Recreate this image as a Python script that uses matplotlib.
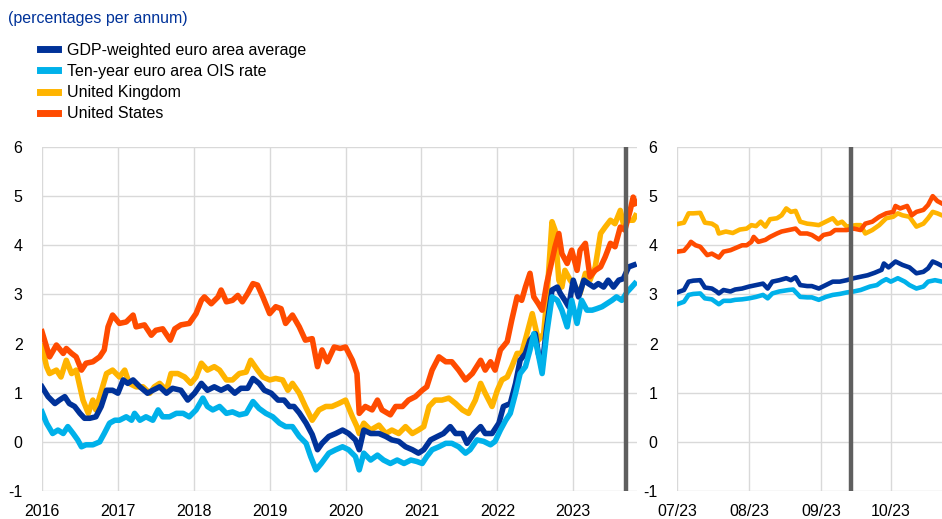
import matplotlib
matplotlib.use("Agg")
import matplotlib.pyplot as plt
from matplotlib.lines import Line2D

plt.rcParams['font.family'] = ['Liberation Sans', 'DejaVu Sans']
plt.rcParams['axes.unicode_minus'] = False

# colours
c_gdp = '#003299'
c_ois = '#00b1ea'
c_uk = '#ffb400'
c_us = '#ff4b00'
c_bar = '#5f5f5f'

labels = ['GDP-weighted euro area average', 'Ten-year euro area OIS rate',
          'United Kingdom', 'United States']

# ---- left panel (decimal years) ----
us_x = [2016.00, 2016.10, 2016.19, 2016.28, 2016.32, 2016.39, 2016.45, 2016.52, 2016.58, 2016.67,
        2016.76, 2016.82, 2016.87, 2016.93, 2017.02, 2017.11, 2017.20, 2017.24, 2017.35, 2017.44,
        2017.50, 2017.59, 2017.69, 2017.75, 2017.83, 2017.94, 2018.03, 2018.10, 2018.14, 2018.23,
        2018.32, 2018.36, 2018.43, 2018.51, 2018.58, 2018.64, 2018.71, 2018.78, 2018.84, 2018.91,
        2019.00, 2019.08, 2019.15, 2019.21, 2019.30, 2019.39, 2019.47, 2019.56, 2019.63, 2019.69,
        2019.76, 2019.85, 2019.93, 2020.00, 2020.09, 2020.15, 2020.18, 2020.26, 2020.35, 2020.42,
        2020.48, 2020.59, 2020.66, 2020.75, 2020.83, 2020.92, 2021.01, 2021.07, 2021.14, 2021.23,
        2021.32, 2021.40, 2021.49, 2021.58, 2021.67, 2021.78, 2021.84, 2021.91, 2021.97, 2022.04,
        2022.13, 2022.19, 2022.26, 2022.32, 2022.37, 2022.43, 2022.48, 2022.54, 2022.59, 2022.65,
        2022.72, 2022.76, 2022.81, 2022.85, 2022.92, 2022.98, 2023.05, 2023.09, 2023.16, 2023.22,
        2023.29, 2023.36, 2023.42, 2023.49, 2023.55, 2023.62, 2023.68, 2023.75, 2023.79, 2023.82]
us_y = [2.24, 1.73, 1.97, 1.80, 1.90, 1.80, 1.73, 1.46, 1.60, 1.63,
        1.73, 1.87, 2.34, 2.58, 2.41, 2.44, 2.58, 2.34, 2.38, 2.17,
        2.27, 2.30, 2.07, 2.30, 2.38, 2.41, 2.61, 2.88, 2.95, 2.81,
        2.95, 3.09, 2.85, 2.88, 2.98, 2.85, 3.02, 3.22, 3.19, 2.95,
        2.61, 2.75, 2.71, 2.41, 2.58, 2.34, 2.07, 2.10, 1.53, 1.87,
        1.63, 1.93, 1.90, 1.93, 1.66, 1.39, 0.58, 0.72, 0.65, 0.85,
        0.65, 0.55, 0.72, 0.72, 0.85, 0.92, 1.05, 1.12, 1.46, 1.73,
        1.63, 1.63, 1.46, 1.26, 1.39, 1.66, 1.46, 1.63, 1.46, 1.87,
        2.04, 2.48, 2.95, 2.88, 3.15, 3.43, 2.95, 2.81, 2.68, 3.22,
        3.69, 3.97, 4.24, 3.83, 3.63, 3.90, 3.49, 3.90, 4.04, 3.36,
        3.49, 3.56, 3.76, 4.04, 3.97, 4.37, 4.31, 4.71, 4.98, 4.85]

uk_x = [2016.00, 2016.06, 2016.10, 2016.19, 2016.25, 2016.32, 2016.39, 2016.45, 2016.50, 2016.54,
        2016.61, 2016.67, 2016.71, 2016.76, 2016.85, 2016.93, 2017.02, 2017.09, 2017.15, 2017.24,
        2017.33, 2017.42, 2017.48, 2017.55, 2017.64, 2017.70, 2017.79, 2017.88, 2017.96, 2018.03,
        2018.10, 2018.18, 2018.27, 2018.34, 2018.43, 2018.51, 2018.60, 2018.69, 2018.75, 2018.84,
        2018.91, 2019.00, 2019.08, 2019.17, 2019.24, 2019.30, 2019.39, 2019.47, 2019.56, 2019.65,
        2019.74, 2019.82, 2019.91, 2020.00, 2020.09, 2020.15, 2020.18, 2020.24, 2020.33, 2020.44,
        2020.53, 2020.61, 2020.70, 2020.79, 2020.88, 2020.96, 2021.03, 2021.10, 2021.18, 2021.27,
        2021.36, 2021.45, 2021.54, 2021.62, 2021.71, 2021.78, 2021.84, 2021.93, 2022.00, 2022.06,
        2022.13, 2022.19, 2022.26, 2022.32, 2022.39, 2022.46, 2022.50, 2022.54, 2022.61, 2022.65,
        2022.72, 2022.76, 2022.81, 2022.85, 2022.89, 2022.96, 2023.03, 2023.09, 2023.16, 2023.22,
        2023.29, 2023.36, 2023.42, 2023.49, 2023.55, 2023.62, 2023.66, 2023.73, 2023.79, 2023.82]
uk_y = [1.95, 1.53, 1.39, 1.46, 1.32, 1.66, 1.39, 1.46, 1.12, 0.85,
        0.58, 0.85, 0.65, 0.92, 1.39, 1.46, 1.32, 1.46, 1.19, 1.12,
        1.12, 0.99, 1.12, 1.19, 1.05, 1.39, 1.39, 1.32, 1.19, 1.32,
        1.60, 1.46, 1.53, 1.46, 1.26, 1.26, 1.39, 1.42, 1.66, 1.46,
        1.32, 1.26, 1.29, 1.26, 1.05, 1.19, 0.99, 0.72, 0.44, 0.65,
        0.72, 0.72, 0.78, 0.85, 0.51, 0.31, 0.17, 0.38, 0.24, 0.34,
        0.17, 0.24, 0.17, 0.31, 0.17, 0.24, 0.31, 0.72, 0.85, 0.85,
        0.89, 0.78, 0.65, 0.58, 0.85, 1.19, 0.99, 0.72, 1.05, 1.26,
        1.32, 1.53, 1.80, 1.80, 2.20, 2.61, 2.34, 2.07, 2.20, 2.88,
        4.48, 4.31, 3.29, 3.15, 3.49, 3.29, 3.15, 3.02, 3.43, 3.29,
        3.56, 4.24, 4.37, 4.51, 4.44, 4.71, 4.44, 4.51, 4.51, 4.60]

gdp_x = [2016.00, 2016.08, 2016.17, 2016.23, 2016.30, 2016.36, 2016.43, 2016.50, 2016.56, 2016.63,
         2016.71, 2016.78, 2016.85, 2016.93, 2017.00, 2017.07, 2017.13, 2017.20, 2017.29, 2017.39,
         2017.46, 2017.55, 2017.64, 2017.72, 2017.83, 2017.92, 2018.01, 2018.10, 2018.18, 2018.27,
         2018.36, 2018.45, 2018.54, 2018.62, 2018.71, 2018.78, 2018.86, 2018.93, 2019.02, 2019.11,
         2019.19, 2019.26, 2019.32, 2019.39, 2019.48, 2019.56, 2019.63, 2019.69, 2019.78, 2019.87,
         2019.96, 2020.04, 2020.13, 2020.18, 2020.24, 2020.33, 2020.44, 2020.53, 2020.61, 2020.70,
         2020.79, 2020.88, 2020.96, 2021.03, 2021.12, 2021.21, 2021.29, 2021.38, 2021.45, 2021.54,
         2021.60, 2021.69, 2021.78, 2021.84, 2021.93, 2022.02, 2022.08, 2022.17, 2022.24, 2022.30,
         2022.37, 2022.43, 2022.50, 2022.54, 2022.59, 2022.65, 2022.72, 2022.79, 2022.83, 2022.89,
         2022.94, 2023.00, 2023.07, 2023.14, 2023.20, 2023.27, 2023.33, 2023.40, 2023.46, 2023.53,
         2023.60, 2023.66, 2023.73, 2023.80]
gdp_y = [1.12, 0.92, 0.78, 0.85, 0.92, 0.78, 0.72, 0.58, 0.48, 0.48,
         0.51, 0.72, 1.05, 1.05, 0.99, 1.26, 1.19, 1.26, 1.12, 0.99,
         1.05, 1.12, 0.99, 1.09, 1.05, 0.85, 0.99, 1.19, 1.05, 1.12,
         1.05, 1.12, 0.99, 1.09, 1.09, 1.29, 1.19, 1.05, 0.99, 0.85,
         0.85, 0.72, 0.72, 0.59, 0.38, 0.15, -0.16, -0.03, 0.11, 0.17,
         0.24, 0.17, 0.04, -0.16, 0.24, 0.17, 0.17, 0.11, 0.04, 0.01,
         -0.10, -0.16, -0.23, -0.16, 0.04, 0.11, 0.17, 0.31, 0.17, 0.17,
         -0.03, 0.17, 0.31, 0.17, 0.17, 0.38, 0.72, 0.78, 1.19, 1.66,
         1.80, 2.07, 2.20, 1.80, 1.53, 2.34, 3.09, 3.15, 3.02, 2.88,
         2.75, 3.29, 2.95, 3.29, 3.22, 3.15, 3.22, 3.15, 3.29, 3.15,
         3.29, 3.32, 3.56, 3.60]

ois_x = [2016.00, 2016.06, 2016.14, 2016.21, 2016.28, 2016.34, 2016.41, 2016.47, 2016.52, 2016.58,
         2016.67, 2016.76, 2016.82, 2016.89, 2016.96, 2017.02, 2017.11, 2017.18, 2017.22, 2017.29,
         2017.37, 2017.46, 2017.53, 2017.59, 2017.68, 2017.77, 2017.86, 2017.94, 2018.03, 2018.12,
         2018.18, 2018.25, 2018.34, 2018.43, 2018.51, 2018.60, 2018.69, 2018.78, 2018.86, 2018.95,
         2019.04, 2019.13, 2019.21, 2019.30, 2019.39, 2019.48, 2019.54, 2019.61, 2019.68, 2019.78,
         2019.87, 2019.96, 2020.04, 2020.13, 2020.18, 2020.24, 2020.33, 2020.42, 2020.50, 2020.59,
         2020.68, 2020.77, 2020.86, 2020.94, 2021.01, 2021.07, 2021.14, 2021.23, 2021.32, 2021.40,
         2021.49, 2021.58, 2021.64, 2021.73, 2021.82, 2021.91, 2021.97, 2022.04, 2022.11, 2022.17,
         2022.24, 2022.30, 2022.37, 2022.43, 2022.48, 2022.52, 2022.59, 2022.65, 2022.72, 2022.79,
         2022.85, 2022.92, 2022.98, 2023.05, 2023.11, 2023.18, 2023.25, 2023.31, 2023.38, 2023.44,
         2023.51, 2023.57, 2023.64, 2023.71, 2023.77, 2023.81]
ois_y = [0.61, 0.38, 0.17, 0.24, 0.17, 0.31, 0.17, 0.04, -0.10, -0.06,
         -0.06, 0.00, 0.17, 0.38, 0.44, 0.44, 0.51, 0.44, 0.58, 0.44,
         0.51, 0.44, 0.65, 0.51, 0.51, 0.58, 0.58, 0.51, 0.65, 0.89,
         0.72, 0.65, 0.72, 0.58, 0.61, 0.55, 0.58, 0.82, 0.68, 0.58,
         0.51, 0.38, 0.31, 0.31, 0.11, -0.03, -0.30, -0.57, -0.44, -0.23,
         -0.16, -0.10, -0.16, -0.30, -0.57, -0.23, -0.37, -0.27, -0.37, -0.44,
         -0.37, -0.44, -0.37, -0.40, -0.44, -0.30, -0.16, -0.10, -0.03, -0.03,
         -0.10, -0.23, -0.16, 0.04, 0.01, -0.06, 0.01, 0.24, 0.44, 0.58,
         0.99, 1.39, 1.53, 1.87, 2.20, 1.93, 1.39, 2.20, 2.95, 2.88,
         2.68, 2.34, 2.88, 2.41, 2.88, 2.68, 2.68, 2.71, 2.75, 2.81,
         2.88, 2.95, 2.88, 3.05, 3.15, 3.22]

year_ticks = [2016, 2017, 2018, 2019, 2020, 2021, 2022, 2023]
meeting_year = 2023.70

# ---- right panel (days since 1 July 2023) ----
uk_d = [0, 3, 5, 7, 10, 12, 15, 17, 18, 21, 24, 27, 30, 32, 34, 36, 38, 40, 43, 45, 47, 49, 51, 53,
        56, 58, 61, 64, 67, 69, 71, 73, 77, 79, 81, 84, 87, 90, 93, 95, 97, 100, 103, 106, 108, 110, 112, 114]
uk_r = [4.43, 4.46, 4.65, 4.65, 4.66, 4.46, 4.44, 4.38, 4.24, 4.28, 4.25, 4.32, 4.34, 4.41, 4.39, 4.48,
        4.38, 4.53, 4.55, 4.61, 4.75, 4.68, 4.70, 4.48, 4.44, 4.43, 4.41, 4.48, 4.55, 4.44, 4.48, 4.38,
        4.41, 4.41, 4.24, 4.31, 4.41, 4.55, 4.58, 4.65, 4.61, 4.58, 4.38, 4.44, 4.55, 4.68, 4.65, 4.61]

us_d = [0, 3, 5, 6, 8, 10, 13, 15, 18, 20, 23, 25, 28, 30, 32, 33, 35, 38, 40, 43, 45, 48, 51, 53, 56,
        58, 61, 63, 66, 68, 71, 73, 76, 79, 81, 84, 87, 90, 93, 94, 96, 99, 101, 103, 106, 108, 110, 112, 114]
us_r = [3.87, 3.89, 4.00, 4.07, 4.00, 3.97, 3.80, 3.83, 3.75, 3.87, 3.90, 3.94, 4.00, 4.00, 4.07, 4.17,
        4.07, 4.11, 4.17, 4.24, 4.28, 4.31, 4.34, 4.24, 4.24, 4.21, 4.12, 4.21, 4.24, 4.31, 4.31, 4.31,
        4.34, 4.31, 4.44, 4.48, 4.58, 4.65, 4.68, 4.80, 4.75, 4.80, 4.61, 4.68, 4.72, 4.82, 5.00, 4.90, 4.85]

gdp_d = [0, 3, 5, 7, 10, 12, 15, 17, 18, 20, 23, 25, 28, 31, 34, 37, 39, 41, 44, 47, 49, 51, 53, 56,
         58, 61, 64, 67, 70, 73, 76, 79, 82, 85, 88, 89, 91, 94, 97, 100, 103, 106, 108, 110, 112, 114]
gdp_r = [3.04, 3.09, 3.26, 3.28, 3.29, 3.14, 3.12, 3.06, 3.02, 3.09, 3.06, 3.10, 3.12, 3.16, 3.19, 3.22,
         3.12, 3.26, 3.29, 3.33, 3.29, 3.35, 3.19, 3.17, 3.17, 3.12, 3.19, 3.26, 3.26, 3.29, 3.33, 3.36,
         3.39, 3.44, 3.50, 3.63, 3.55, 3.67, 3.60, 3.55, 3.43, 3.46, 3.53, 3.67, 3.63, 3.58]

ois_d = [0, 3, 5, 7, 10, 12, 15, 18, 20, 23, 25, 28, 31, 34, 37, 39, 41, 44, 48, 50, 53, 56, 58, 61,
         64, 67, 70, 73, 76, 79, 83, 86, 88, 90, 92, 95, 98, 100, 103, 106, 108, 111, 114]
ois_r = [2.80, 2.85, 2.99, 3.01, 3.02, 2.92, 2.90, 2.80, 2.87, 2.87, 2.89, 2.90, 2.92, 2.95, 2.99, 2.92,
         3.02, 3.06, 3.09, 3.10, 2.95, 2.94, 2.94, 2.89, 2.95, 2.99, 3.01, 3.04, 3.06, 3.09, 3.16, 3.19,
         3.26, 3.31, 3.26, 3.33, 3.26, 3.19, 3.12, 3.16, 3.26, 3.29, 3.26]

month_ticks = [0, 31, 62, 92]
month_labels = ['07/23', '08/23', '09/23', '10/23']
meeting_day = 75

W, H = 942, 519
fig = plt.figure(figsize=(W / 100, H / 100), dpi=100)
ax1 = fig.add_axes([42 / W, 1 - 491 / H, (637 - 42) / W, (491 - 147) / H])
ax2 = fig.add_axes([677 / W, 1 - 491 / H, (942 - 677) / W, (491 - 147) / H])

lw1 = 4.0
ax1.plot(uk_x, uk_y, color=c_uk, lw=lw1, zorder=2)
ax1.plot(gdp_x, gdp_y, color=c_gdp, lw=lw1, zorder=3)
ax1.plot(ois_x, ois_y, color=c_ois, lw=lw1, zorder=4)
ax1.plot(us_x, us_y, color=c_us, lw=lw1, zorder=5)
ax1.axvline(meeting_year, color=c_bar, lw=3.2, zorder=6)
ax1.set_xlim(2016, 2023.84)
ax1.set_xticks(year_ticks)
ax1.set_xticklabels([str(y) for y in year_ticks])

lw2 = 3.3
ax2.plot(uk_d, uk_r, color=c_uk, lw=lw2, zorder=2)
ax2.plot(gdp_d, gdp_r, color=c_gdp, lw=lw2, zorder=3)
ax2.plot(ois_d, ois_r, color=c_ois, lw=lw2, zorder=4)
ax2.plot(us_d, us_r, color=c_us, lw=lw2, zorder=5)
ax2.axvline(meeting_day, color=c_bar, lw=3.2, zorder=6)
ax2.set_xlim(0, 114)
ax2.set_xticks(month_ticks)
ax2.set_xticklabels(month_labels)

for ax in (ax1, ax2):
    ax.set_ylim(-1, 6)
    ax.set_yticks(range(-1, 7))
    ax.grid(True, color='#d9d9d9', lw=1.0, zorder=0)
    ax.set_axisbelow(True)
    for s in ax.spines.values():
        s.set_visible(False)
    ax.tick_params(length=0, labelsize=11.5, colors='#000000')
    ax.tick_params(axis='x', pad=9)
    ax.tick_params(axis='y', pad=14)

fig.text(8 / W, 1 - 18 / H, '(percentages per annum)', color=c_gdp, fontsize=11.5, va='center', ha='left')

handles = [Line2D([], [], color=c, lw=5) for c in (c_gdp, c_ois, c_uk, c_us)]
fig.legend(handles, labels, loc='upper left', bbox_to_anchor=(40 / W, 1 - 43 / H),
           frameon=False, fontsize=11.5, handlelength=1.1, handletextpad=0.6,
           labelspacing=0.38, borderpad=0, borderaxespad=0)

fig.savefig('out.png', dpi=100)
